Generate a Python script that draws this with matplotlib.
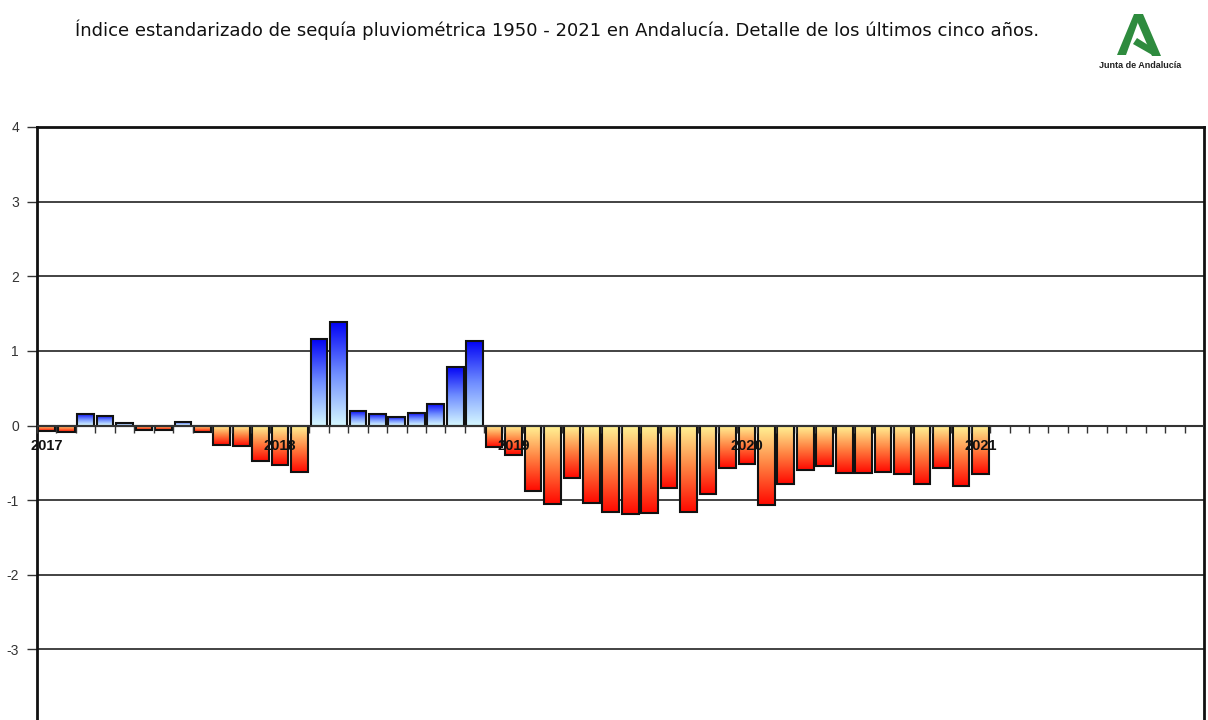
import numpy as np
import matplotlib
matplotlib.use("Agg")
import matplotlib.pyplot as plt
from matplotlib.colors import LinearSegmentedColormap
from matplotlib.patches import Polygon

plt.rcParams['axes.unicode_minus'] = False
plt.rcParams['font.family'] = ['Liberation Sans', 'DejaVu Sans']

# ---- data (monthly index, Jan 2017 .. Jan 2021) ----
values_2017 = [-0.07, -0.085, 0.16, 0.13, 0.04, -0.06, -0.06, 0.05, -0.085, -0.26, -0.27, -0.48]
values_2018 = [-0.53, -0.625, 1.16, 1.39, 0.19, 0.15, 0.12, 0.17, 0.29, 0.78, 1.13, -0.29]
values_2019 = [-0.39, -0.88, -1.05, -0.71, -1.04, -1.16, -1.19, -1.17, -0.84, -1.16, -0.92, -0.57]
values_2020 = [-0.51, -1.06, -0.78, -0.60, -0.54, -0.63, -0.63, -0.62, -0.65, -0.79, -0.57, -0.81]
values_2021 = [-0.65]
year_labels = ["2017", "2018", "2019", "2020", "2021"]
y_ticks = [4, 3, 2, 1, 0, -1, -2, -3, -4]
n_slots = 60

values = np.array(values_2017 + values_2018 + values_2019 + values_2020 + values_2021)
x = np.arange(len(values))

fig = plt.figure(figsize=(12.08, 7.2), dpi=100)
ax_bottom = -4 / 720
ax_top = (720 - 127) / 720
ax = fig.add_axes([37 / 1208, ax_bottom, (1204 - 37) / 1208, ax_top - ax_bottom])

blue_cmap = LinearSegmentedColormap.from_list("b", ["#d4f6ff", "#6f8dff", "#0000f5"])
red_cmap = LinearSegmentedColormap.from_list("r", ["#ff0800", "#ff8040", "#fff596"])
grad = np.linspace(0, 1, 256).reshape(-1, 1)

w = 0.86
for xi, v in zip(x, values):
    if v >= 0:
        ax.imshow(grad, extent=[xi - w / 2, xi + w / 2, 0, v], origin='lower',
                  aspect='auto', cmap=blue_cmap, zorder=2, interpolation='bilinear')
    else:
        ax.imshow(grad, extent=[xi - w / 2, xi + w / 2, v, 0], origin='lower',
                  aspect='auto', cmap=red_cmap, zorder=2, interpolation='bilinear')
ax.bar(x, values, width=w, facecolor='none', edgecolor='#111111', linewidth=1.5, zorder=3)

# grid
for yv in y_ticks:
    ax.axhline(yv, color='#222222', linewidth=1.2, zorder=1)
ax.axhline(0, color='#333333', linewidth=1.5, zorder=4)
# minor tick marks along zero line
bounds = np.arange(n_slots + 1) - 0.5
ax.vlines(bounds, -0.095, 0, color='#333333', linewidth=1.0, zorder=4)

ax.set_xlim(-0.5, n_slots - 0.5)
ax.set_ylim(-4, 4)
ax.set_xticks([])
ax.set_yticks(y_ticks)
ax.set_yticklabels([str(t) for t in y_ticks], fontsize=10, color='#333333')
ax.tick_params(axis='y', direction='out', length=7, width=1.0, pad=6, color='#333333')
for s in ['top', 'left', 'right']:
    ax.spines[s].set_linewidth(2.0)
    ax.spines[s].set_color('#111111')
ax.spines['bottom'].set_visible(False)

# year labels
for i, lab in enumerate(year_labels):
    ax.text(i * 12, -0.28, lab, ha='center', va='center', fontsize=10.5,
            fontweight='bold', color='#111111', zorder=6)

# title
fig.text(75 / 1208, 1 - 30 / 720,
         "Índice estandarizado de sequía pluviométrica 1950 - 2021 en Andalucía. Detalle de los últimos cinco años.",
         ha='left', va='center', fontsize=13, color='#111111', family=['DejaVu Sans'])

# logo
def fp(px, py):
    return (px / 1208, 1 - py / 720)
green = '#2e8b3e'
left_leg = [fp(1117, 55), fp(1126, 55), fp(1141, 14), fp(1134, 14)]
right_leg = [fp(1134, 14), fp(1143, 14), fp(1161, 56), fp(1152, 56)]
cross = [fp(1133, 44), fp(1137, 38), fp(1156, 50), fp(1154, 56)]
for poly in (left_leg, right_leg, cross):
    fig.add_artist(Polygon(poly, closed=True, transform=fig.transFigure,
                           facecolor=green, edgecolor='none'))
fig.text(1140 / 1208, 1 - 65 / 720, "Junta de Andalucía", ha='center', va='center',
         fontsize=6.5, fontweight='bold', color='#222222')

fig.savefig("out.png", dpi=100)
